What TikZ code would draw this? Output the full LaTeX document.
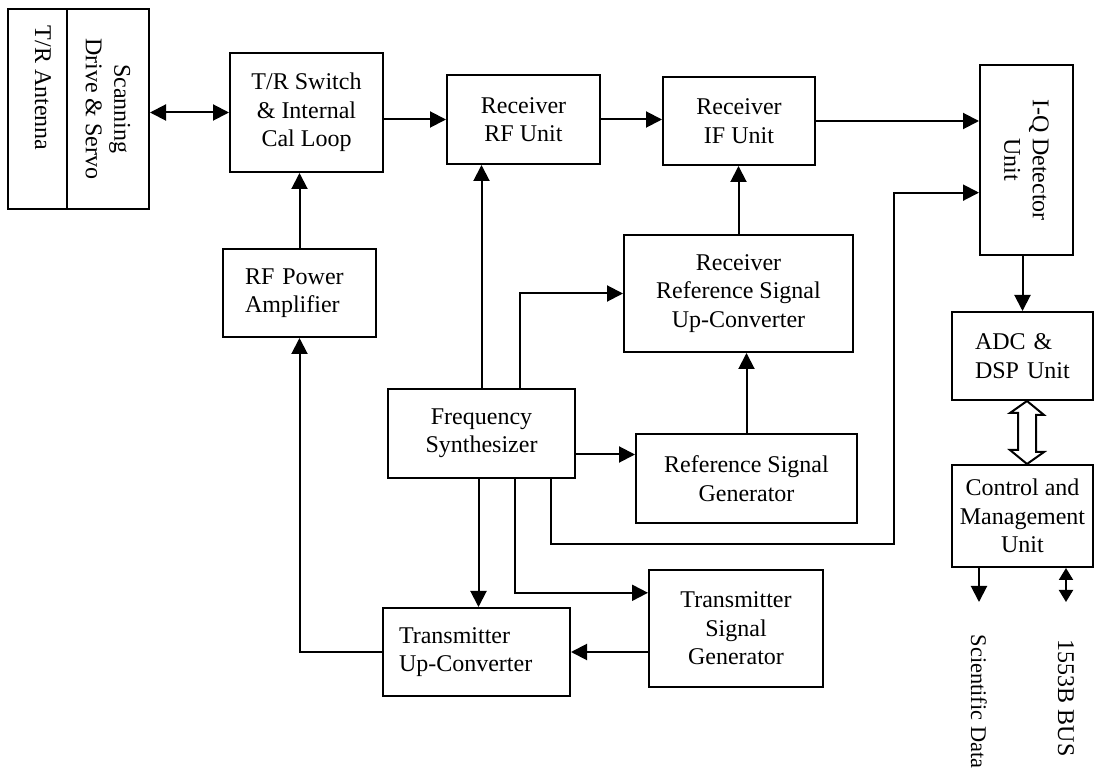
\documentclass[tikz,border=0pt]{standalone}
\usepackage{fontspec}
\setmainfont{Liberation Serif}
\usetikzlibrary{arrows.meta, calc}

\begin{document}
\begin{tikzpicture}[
    x=0.5pt, y=-0.5pt,
    >={Triangle[length=8pt, width=8pt]},
    line width=1pt,
    block/.style 2 args={draw, rectangle, minimum width=#1*0.5pt, minimum height=#2*0.5pt, inner sep=0pt, font=\fontsize{12}{14.2}\selectfont, align=center},
    lblock/.style={align=left, text width=#1},
    vtext/.style={rotate=-90, align=center, font=\fontsize{12}{14.2}\selectfont},
    sig/.style={->},
    bisig/.style={<->}
]
\useasboundingbox (0,0) rectangle (1094,775);

% Antena e servo
\node[block={59}{200}] (antenna) at (37.5,109) {};
\node[block={82}{200}] (servo) at (108,109) {};
\node[vtext] (antennatxt) at (43,88) {T/R Antenna};
\node[vtext] (servotxt) at (servo) {Scanning\\Drive \& Servo};

% Cadeia de recepcao
\node[block={153}{119}] (trsw) at (306.5,112.5) {T/R Switch\\\& Internal\\Cal Loop};
\node[block={153}{89}] (rfu) at (523.5,119.5) {Receiver\\RF Unit};
\node[block={152}{88}] (ifu) at (739,121) {Receiver\\IF Unit};
\node[block={93}{190}] (iqd) at (1026.5,160) {};
\node[vtext] (iqdtxt) at (iqd) {I-Q Detector\\Unit};

% Blocos centrais
\node[block={153}{88}, lblock=54.5pt] (rfpa) at (299.5,293) {RF Power\\Amplifier};
\node[block={229}{117}] (rrsuc) at (738.5,293.5) {Receiver\\Reference Signal\\Up-Converter};
\node[block={187}{89}] (fsyn) at (481.5,433.5) {Frequency\\Synthesizer};
\node[block={221}{89}] (rsg) at (746.5,478.5) {Reference Signal\\Generator};

% Cadeia de transmissao
\node[block={174}{117}] (tsg) at (736,628.5) {Transmitter\\Signal\\Generator};
\node[block={187}{88}, lblock=77.5pt] (tuc) at (476.5,652) {Transmitter\\Up-Converter};

% Processamento digital
\node[block={141}{88}, lblock=47.5pt] (adc) at (1022.5,356) {ADC \&\\DSP Unit};
\node[block={141}{102}] (cmu) at (1022.5,516) {Control and\\Management\\Unit};

% Saidas
\coordinate (sciend) at (979,602);
\coordinate (busend) at (1066,602);
\node[vtext, font=\fontsize{11.2}{13}\selectfont, anchor=west] (scidata) at (979,627) {Scientific Data};
\node[vtext, anchor=west] (busdata) at (1066,632) {1553B BUS};

% Sinais
\draw[bisig] (trsw.west -| servo.east) -- (trsw.west);
\draw[sig] (trsw.east |- rfu.west) -- (rfu.west);
\draw[sig] (rfu.east) -- (rfu.east -| ifu.west);
\draw[sig] (ifu.east) -- (ifu.east -| iqd.west);
\draw[sig] (rfpa.north) -- (rfpa.north |- trsw.south);
\draw[sig] (fsyn.north) -- (fsyn.north |- rfu.south);
\draw[sig] ($(fsyn.north)+(38,0)$) |- (rrsuc.west);
\draw[sig] ($(fsyn.east)+(0,21)$) coordinate (fs2rsg) -- (fs2rsg -| rsg.west);
\draw[sig] (rsg.north) -- (rsg.north |- rrsuc.south);
\draw[sig] (rrsuc.north) -- (rrsuc.north |- ifu.south);
\draw[sig] (adc.north |- iqd.south) -- (adc.north);
\draw[sig] ($(fsyn.south)+(-3,0)$) coordinate (fs2tuc) -- (fs2tuc |- tuc.north);
\draw[sig] ($(fsyn.south)+(33,0)$) |- ($(tsg.north west)!0.2!(tsg.south west)$);
\draw[sig] (tuc.east -| tsg.west) -- (tuc.east);
\draw[sig] (tuc.west) -| (rfpa.south);

% Laco ate o detector I-Q
\coordinate (loopc) at (894,544);
\draw[sig] ($(fsyn.south)+(69,0)$) |- (loopc) |- ($(iqd.north west)!0.67!(iqd.south west)$);

% Barramento ADC/controlo
\coordinate (dbl) at (1027,0);
\draw[line join=miter] (adc.south -| dbl) -- ++(17,14) -- ++(-8,0) -- ++(0,37) -- ++(8,0) -- (cmu.north -| dbl)
    -- ++(-17,-14) -- ++(8,0) -- ++(0,-37) -- ++(-8,0) -- cycle;

\draw[sig] (cmu.south -| sciend) -- (sciend);
\draw[bisig, >={Triangle[length=6pt, width=7pt]}] (cmu.south -| busend) -- (busend);

\end{tikzpicture}
\end{document}
